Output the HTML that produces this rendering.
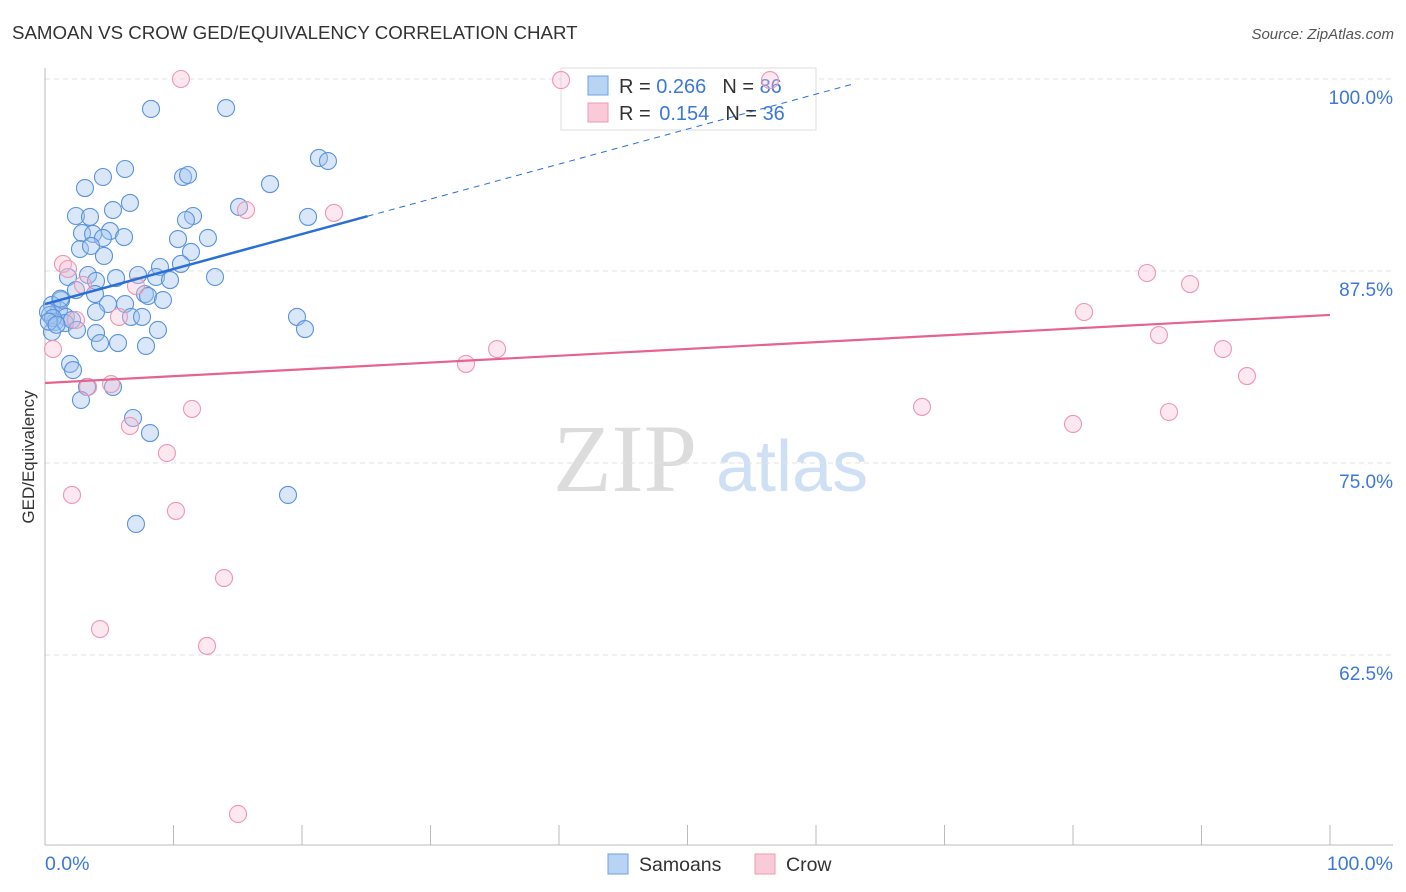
<!DOCTYPE html>
<html><head><meta charset="utf-8"><style>
body{margin:0;background:#fff;font-family:"Liberation Sans",sans-serif}
svg{display:block}
</style></head><body>
<svg id="chart" width="1406" height="892" xmlns="http://www.w3.org/2000/svg">
<text x="12" y="39" font-size="18.7" fill="#333">SAMOAN VS CROW GED/EQUIVALENCY CORRELATION CHART</text>
<text x="1394" y="39" font-size="15" fill="#555" font-style="italic" text-anchor="end">Source: ZipAtlas.com</text>
<g>
<text x="553" y="491" font-family="Liberation Serif,serif" font-size="96" fill="#dcdcdc">ZIP</text>
<text x="716" y="491" font-size="72" fill="#cfe0f5">atlas</text>
</g>
<g id="grid"></g>
<line x1="45" y1="68" x2="45" y2="845" stroke="#bbb"/>
<line x1="45" y1="845" x2="1393" y2="845" stroke="#bbb"/>
<g id="xticks"></g>
<text transform="translate(34,457) rotate(-90)" font-size="17" fill="#333" text-anchor="middle">GED/Equivalency</text>
<text x="45" y="870" font-size="19.5" fill="#3b78d8">0.0%</text>
<text x="1393" y="870" font-size="19.5" fill="#3b78d8" text-anchor="end">100.0%</text>
<g>
<rect x="561" y="68" width="255" height="62" fill="#fff" stroke="#ddd"/>
<rect x="588" y="76" width="20" height="19" fill="#b9d3f5" stroke="#6fa0e0"/>
<rect x="588" y="103" width="20" height="19" fill="#fbcad8" stroke="#ef9ab3"/>
<text x="619" y="93" font-size="20" fill="#333">R = <tspan fill="#3b78d8">0.266</tspan><tspan dx="16">N = </tspan><tspan fill="#3b78d8">86</tspan></text>
<text x="619" y="120" font-size="20" fill="#333">R = <tspan dx="3" fill="#3b78d8">0.154</tspan><tspan dx="16">N = </tspan><tspan fill="#3b78d8">36</tspan></text>
</g>
<g id="pts"></g>
<g id="lines"></g>
<g>
<rect x="608" y="854" width="20" height="20" fill="#b9d3f5" stroke="#6fa0e0"/>
<text x="639" y="871" font-size="19.5" fill="#333">Samoans</text>
<rect x="755" y="854" width="20" height="20" fill="#fbcad8" stroke="#ef9ab3"/>
<text x="786" y="871" font-size="19.5" fill="#333">Crow</text>
</g>
</svg>
<script>
const yTicks=[100,87.5,75,62.5];
const yTickLabels=["100.0%","87.5%","75.0%","62.5%"];
const xTicks=[10,20,30,40,50,60,70,80,90,100];
const samoanX=[8.25,14.09,21.32,22.02,6.23,10.74,11.13,4.51,3.11,17.51,6.61,15.10,5.29,2.41,3.50,11.52,10.97,20.47,2.88,3.74,5.06,4.51,6.15,10.35,12.68,2.72,3.58,4.59,11.36,8.95,10.58,13.23,7.24,8.64,9.73,5.53,3.35,1.79,3.97,2.41,1.25,3.89,7.78,8.02,6.23,4.90,9.18,0.54,1.09,0.39,1.63,3.97,6.69,7.55,19.61,0.78,1.56,2.10,20.23,2.49,3.97,8.79,0.54,4.28,5.68,7.86,1.95,2.18,3.27,5.29,2.80,6.85,8.17,18.91,7.08,0.23,0.62,0.3,1.2,0.9];
const samoanY=[98.05,98.11,94.86,94.66,94.14,93.62,93.75,93.62,92.90,93.16,91.93,91.67,91.47,91.08,91.02,91.08,90.82,91.02,89.97,89.91,90.10,89.65,89.71,89.58,89.65,88.93,89.13,88.48,88.74,87.76,87.96,87.11,87.24,87.11,86.91,87.04,87.24,87.11,86.85,86.26,85.61,86.00,86.00,85.87,85.35,85.35,85.61,85.29,84.96,84.64,84.51,84.83,84.51,84.51,84.51,84.18,84.11,84.31,83.72,83.66,83.46,83.66,83.53,82.81,82.81,82.62,81.45,81.05,79.95,79.95,79.10,77.93,76.95,72.92,71.03,84.83,84.44,84.2,85.7,84.0];
const crowX=[10.58,40.16,56.42,15.64,22.49,1.40,1.79,2.96,7.08,85.76,89.11,80.86,5.76,2.41,86.69,0.62,35.18,32.76,91.67,93.54,5.14,3.35,11.44,68.25,87.47,80.00,6.61,9.49,2.10,10.19,13.93,4.28,12.61,15.02];
const crowY=[100,99.93,99.93,91.47,91.28,87.96,87.63,86.59,86.52,87.37,86.65,84.83,84.51,84.31,83.33,82.42,82.42,81.45,82.42,80.66,80.14,79.95,78.52,78.65,78.32,77.54,77.41,75.65,72.92,71.88,67.51,64.19,63.09,52.15];
const samoanTrend=[85.35,99.7];
const crowTrend=[80.21,84.64];
const NS="http://www.w3.org/2000/svg";
const X=v=>45+v*12.85;
const Y=v=>79+(100-v)*15.36;
function mk(tag,attrs,parent){const e=document.createElementNS(NS,tag);for(const k in attrs)e.setAttribute(k,attrs[k]);parent.appendChild(e);return e;}
const grid=document.getElementById('grid');
yTicks.forEach((t,i)=>{
 const l=mk('line',{x1:45,x2:1393,y1:Y(t),y2:Y(t),stroke:'#e2e2e2','stroke-dasharray':'5,4'},grid);
 
 
 const tx=mk('text',{x:1393,y:Y(t)+25,'font-size':19,fill:'#3b78d8','text-anchor':'end'},grid);
 tx.textContent=yTickLabels[i];
 
 
});
const xt=document.getElementById('xticks');
xTicks.forEach(t=>{
 const l=mk('line',{x1:X(t),x2:X(t),y1:825,y2:845,stroke:'#bbb'},xt);
 
 
});
const pts=document.getElementById('pts');
samoanX.forEach((x,i)=>{
 const c=mk('circle',{cx:X(x),cy:Y(samoanY[i]),r:8.5,fill:'rgba(160,196,240,0.4)',stroke:'#5b93dc','stroke-width':1.1},pts);
 
 
});
crowX.forEach((x,i)=>{
 const c=mk('circle',{cx:X(x),cy:Y(crowY[i]),r:8.5,fill:'rgba(248,190,208,0.35)',stroke:'#ec98b2','stroke-width':1.1},pts);
 
 
});
const ln=document.getElementById('lines');
const sy=x=>samoanTrend[0]+(samoanTrend[1]-samoanTrend[0])*x/63;
let a=mk('line',{x1:X(0),y1:Y(sy(0)),x2:X(25.1),y2:Y(sy(25.1)),stroke:'#2a6fd6','stroke-width':2.5},ln);


let b=mk('line',{x1:X(25.1),y1:Y(sy(25.1)),x2:X(63),y2:Y(sy(63)),stroke:'#2a6fd6','stroke-width':1,'stroke-dasharray':'6,5'},ln);


let c=mk('line',{x1:X(0),y1:Y(crowTrend[0]),x2:X(100),y2:Y(crowTrend[1]),stroke:'#e5638c','stroke-width':2.2},ln);


</script>
</body></html>
